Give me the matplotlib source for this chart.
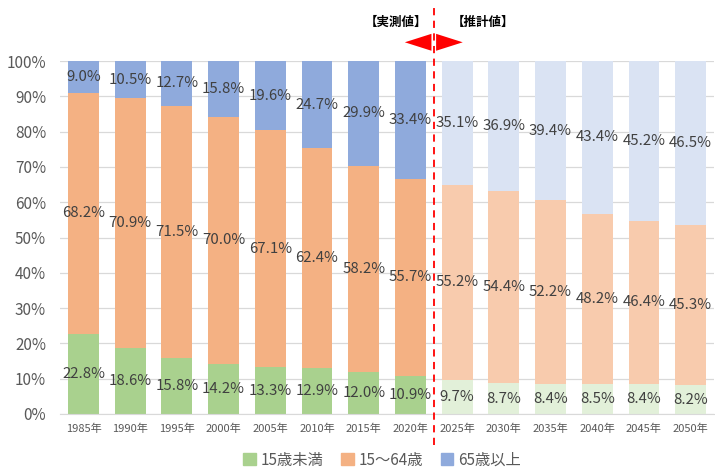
import numpy as np
import matplotlib.pyplot as plt

years = ["1985年", "1990年", "1995年", "2000年", "2005年", "2010年", "2015年",
         "2020年", "2025年", "2030年", "2035年", "2040年", "2045年", "2050年"]
under15 = [22.8, 18.6, 15.8, 14.2, 13.3, 12.9, 12.0, 10.9, 9.7, 8.7, 8.4, 8.5, 8.4, 8.2]
age15_64 = [68.2, 70.9, 71.5, 70.0, 67.1, 62.4, 58.2, 55.7, 55.2, 54.4, 52.2, 48.2, 46.4, 45.3]
over65 = [9.0, 10.5, 12.7, 15.8, 19.6, 24.7, 29.9, 33.4, 35.1, 36.9, 39.4, 43.4, 45.2, 46.5]
legend_names = ["15歳未満", "15～64歳", "65歳以上"]
n_actual = 8  # 2020年までが実測値

colors = ["#A9D18E", "#F4B183", "#8FAADC"]
colors_est = ["#E2F0D9", "#F8CBAD", "#DAE3F3"]

plt.rcParams['font.family'] = ['Noto Sans CJK JP', 'DejaVu Sans']

fig = plt.figure(figsize=(7.15, 4.67), dpi=100)
ax = fig.add_axes([60 / 715, 53 / 467, 654 / 715, 353 / 467])

x = np.arange(len(years))
series = [np.array(under15), np.array(age15_64), np.array(over65)]
bottom = np.zeros(len(years))
for k, vals in enumerate(series):
    cols = [colors[k] if i < n_actual else colors_est[k] for i in range(len(years))]
    ax.bar(x, vals, 0.66, bottom=bottom, color=cols, zorder=2, label=legend_names[k])
    for i in range(len(years)):
        ax.text(x[i], bottom[i] + vals[i] / 2, f"{vals[i]:.1f}%", ha="center", va="center",
                fontsize=10.8, color="#404040", zorder=3)
    bottom = bottom + vals

ax.set_xlim(-0.503, 13.5)
ax.set_ylim(0, 100)
ax.set_yticks(np.arange(0, 101, 10))
ax.set_yticklabels([f"{v}%" for v in range(0, 101, 10)], fontsize=11, color="#595959")
ax.set_xticks(x)
ax.set_xticklabels(years, fontsize=8, color="#595959")
ax.tick_params(length=0)
ax.tick_params(axis="y", pad=10)
ax.tick_params(axis="x", pad=7)
ax.yaxis.grid(True, color="#D9D9D9", linewidth=0.9, zorder=0)
for s in ["top", "right", "left"]:
    ax.spines[s].set_visible(False)
ax.spines["bottom"].set_color("#D9D9D9")

# 実測値・推計値の区切り
xd = n_actual - 0.5
ax.plot([xd, xd], [-8.7, 115.8], color="#FF0000", linestyle=(0, (4, 3)), linewidth=1.3,
        clip_on=False, zorder=4)
ax.fill([xd - 0.05, xd - 0.62, xd - 0.05], [107.7, 105.3, 102.9], color="#FF0000",
        clip_on=False, zorder=4, linewidth=0)
ax.fill([xd + 0.05, xd + 0.62, xd + 0.05], [107.7, 105.3, 102.9], color="#FF0000",
        clip_on=False, zorder=4, linewidth=0)
ax.text(xd - 0.8, 111.0, "【実測値】", ha="center", va="center", fontsize=9,
        fontweight="bold", color="#000000")
ax.text(xd + 1.05, 111.0, "【推計値】", ha="center", va="center", fontsize=9,
        fontweight="bold", color="#000000")

handles = [plt.Rectangle((0, 0), 1, 1, color=c) for c in colors]
fig.legend(handles, legend_names, loc="center", bbox_to_anchor=(382 / 715, 1 - 460 / 467),
           ncol=3, frameon=False, fontsize=11, labelcolor="#595959", handlelength=0.8,
           handleheight=0.8, handletextpad=0.3, columnspacing=1.2)

fig.savefig("out.png", dpi=100)
